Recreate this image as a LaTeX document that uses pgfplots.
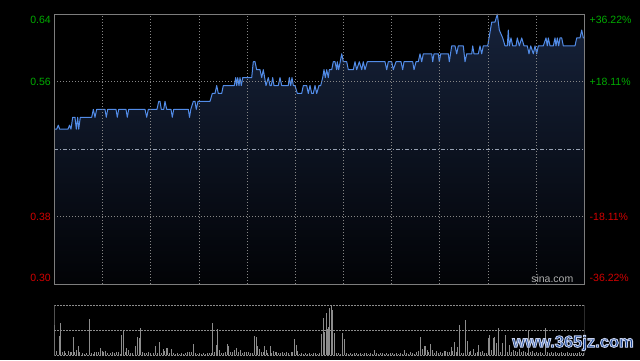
\documentclass[border=0pt]{standalone}
\usepackage{pgfplots}
\usepackage{pgfplotstable}
\pgfplotsset{compat=1.18}
\usepackage{fontspec}
\setmainfont{Liberation Sans}
\definecolor{upgreen}{RGB}{0,170,0}
\definecolor{downred}{RGB}{210,0,0}
\definecolor{pline}{RGB}{82,140,232}
\definecolor{framec}{RGB}{125,125,125}
\definecolor{gridc}{RGB}{135,135,135}
\definecolor{filltop}{RGB}{22,34,58}
\definecolor{fillbot}{RGB}{2,3,6}
\definecolor{volc}{RGB}{140,140,140}
\definecolor{wmblue}{RGB}{26,70,150}

\pgfplotstableread{
x y
54.3 0.495
56.7 0.495
58.3 0.500
59.7 0.495
68.0 0.495
69.5 0.500
71.0 0.495
72.7 0.510
75.0 0.510
76.3 0.495
77.7 0.510
78.7 0.495
80.3 0.510
91.7 0.510
93.3 0.520
95.0 0.510
96.7 0.520
105.0 0.520
106.3 0.510
107.7 0.520
116.0 0.520
117.3 0.510
118.7 0.520
126.0 0.520
127.3 0.510
128.7 0.520
145.0 0.520
146.7 0.510
148.3 0.520
157.0 0.520
158.7 0.530
160.0 0.530
161.3 0.520
163.7 0.520
165.0 0.530
166.7 0.520
171.0 0.520
172.3 0.510
173.7 0.520
188.3 0.520
189.5 0.510
190.8 0.520
193.3 0.530
195.0 0.530
196.3 0.520
198.0 0.530
210.0 0.530
212.3 0.540
215.0 0.540
216.7 0.550
218.3 0.540
221.7 0.540
223.3 0.550
234.3 0.550
235.7 0.560
236.7 0.550
237.7 0.560
239.0 0.550
240.0 0.560
241.3 0.550
242.7 0.560
251.7 0.560
253.3 0.580
255.0 0.580
256.7 0.570
260.0 0.570
261.7 0.560
263.3 0.570
266.0 0.550
268.3 0.560
270.0 0.550
271.3 0.550
272.7 0.560
274.0 0.550
278.3 0.550
280.0 0.560
281.7 0.550
288.3 0.550
289.3 0.560
290.7 0.550
292.0 0.560
293.3 0.550
295.0 0.550
297.3 0.540
301.7 0.540
303.3 0.550
306.7 0.550
308.3 0.540
310.0 0.550
311.7 0.540
313.3 0.540
315.0 0.550
316.7 0.540
319.0 0.550
320.7 0.550
322.7 0.560
324.0 0.570
325.3 0.560
326.7 0.570
328.3 0.560
329.3 0.570
331.7 0.570
333.3 0.580
335.0 0.580
336.7 0.570
337.3 0.580
338.7 0.570
341.7 0.590
343.3 0.580
346.7 0.580
348.3 0.570
353.3 0.570
355.0 0.580
356.7 0.570
359.3 0.580
361.7 0.570
363.3 0.580
365.0 0.570
367.3 0.580
385.0 0.580
386.7 0.570
388.3 0.580
391.7 0.580
393.3 0.570
396.0 0.580
401.0 0.580
402.7 0.570
404.0 0.580
412.7 0.580
414.0 0.570
416.0 0.580
418.3 0.580
420.0 0.590
421.7 0.580
423.3 0.590
431.7 0.590
432.7 0.580
434.0 0.590
438.3 0.590
439.3 0.580
440.7 0.590
448.3 0.590
449.3 0.580
451.7 0.600
455.0 0.600
456.7 0.590
458.3 0.600
463.3 0.600
465.0 0.580
466.7 0.590
471.7 0.590
472.7 0.600
474.0 0.590
478.3 0.590
480.0 0.600
481.7 0.590
483.3 0.600
487.7 0.600
491.7 0.630
495.0 0.630
497.3 0.640
499.3 0.620
502.7 0.610
505.0 0.600
507.3 0.600
508.3 0.620
509.3 0.600
511.0 0.610
512.7 0.600
516.0 0.600
517.3 0.610
519.3 0.600
521.7 0.610
524.0 0.600
527.3 0.600
529.0 0.590
530.7 0.600
533.3 0.590
535.0 0.600
536.7 0.590
538.3 0.600
543.3 0.600
546.0 0.610
547.3 0.600
548.3 0.610
550.0 0.600
553.3 0.600
555.0 0.610
556.0 0.600
557.3 0.610
558.7 0.600
560.0 0.610
561.7 0.610
563.3 0.600
575.0 0.600
576.7 0.610
580.0 0.610
581.7 0.620
583.3 0.610
584.3 0.610
}\price

\pgfplotstableread{
x h
54.7 30
56.7 4
59.3 19
60.3 32
62 3
64 4
65.7 2
68 4
70 3
71.3 3
73 18
74.7 3
76.3 5
78.3 9
79.7 3
82 2
84 1
86 2
89.3 36
91.3 2
93 1
94.7 3
96.7 3
98.7 3
100.3 7
102 4
103.3 3
105.3 4
107.3 2
110 2
112 3
114 2
116 3
118 3
120 1
121.3 20
123.3 25
125.3 3
126.7 7
128.7 5
130.7 2
132.7 2
135.3 9
137.3 18
139.3 17
140.7 27
142.7 3
144.7 2
146.7 2
148.7 3
150.7 2
153.3 2
155.3 9
157.3 2
159.3 13
161.3 2
163.3 6
164.7 4
166.3 7
167.7 7
169.3 2
171.3 6
173 2
175 1
177 2
179 1
181 2
183 1
185 2
187.3 3
189.3 3
191.3 3
193.3 11
195.3 2
197 1
199 2
201 1
203 2
205 1
207 2
209 2
211 2
212.7 32
214 3
216 10
217.3 26
219.3 5
221.3 2
223.3 2
225.3 3
227.3 11
228.7 9
230.7 3
232.7 3
234.7 5
236.7 7
238.7 3
240.7 5
242.7 2
244.7 3
246.7 3
248.7 3
250.7 2
252.7 2
254.3 19
256.3 18
257.7 9
259.7 6
261.7 3
263 3
264.7 9
266 5
267.7 2
270 9
271.7 2
273.3 4
275.3 3
276.7 3
278.7 2
280.7 2
282.7 3
284.7 2
286.7 3
288.7 2
291.3 3
292.7 3
294.3 16
296.3 10
297.7 4
299.7 1
301.7 2
303.7 1
305.7 2
307.7 1
309.7 2
311.7 1
313.7 2
315.7 2
317.7 1
319.7 2
321.3 21
323.3 37
324.3 23
326 42
327.3 26
328.7 28
329.7 47
331.3 50
332.3 45
334.3 22
336.7 2
338.7 2
340.7 1
342.7 22
344.7 16
346.7 2
348.7 1
350.7 2
352.7 1
354.7 2
356.7 2
358.7 1
360.7 2
362.7 1
364.7 2
366.7 2
368.7 1
370.7 2
372.7 1
374.7 5
376.7 2
378.7 1
380.7 2
382.7 2
384.7 1
386.7 2
388.7 1
390.7 2
392.7 2
394.7 1
396.7 2
398.7 1
400.7 2
402.7 1
404 5
406 2
408 1
410 3
412 2
414 1
416.7 3
418.7 4
420.7 18
422.3 6
424 9
425.3 9
427.3 5
428.7 3
430.3 11
432.3 5
434 2
436 4
438 2
440 3
442 2
444 4
445.7 4
447.7 3
449.3 3
451.3 8
452.7 4
454.3 13
456.3 3
457.3 8
459.3 30
461.3 2
463.3 2
465.3 35
467.3 14
469.3 3
470.7 4
473.3 6
475.3 2
477.3 3
478.7 10
480.7 3
482.7 4
484.7 2
486.7 2
488 17
489.3 20
491.3 5
493.3 17
494.3 18
496.7 12
498.7 27
500.7 3
502.7 12
505 20
507 3
509.3 10
511.3 3
513.3 5
515.3 4
517.3 3
519.3 6
521.3 3
523.3 4
525.3 3
527 2
528.7 24
530.7 3
532.7 4
534.7 2
536.7 3
538.7 2
540.7 3
542.7 2
545.3 27
547.3 3
549.3 2
551.3 3
553.3 2
555.3 3
557.3 2
559.3 2
561.3 3
563.3 2
565.3 2
567.3 3
569.3 2
571.3 2
573.3 2
575.3 2
577.3 2
579.3 3
581.3 2
583.3 2
}\vol

\begin{document}
\begin{tikzpicture}[x=1bp,y=1bp,font=\fontsize{10.5bp}{12bp}\selectfont]
\fill[black] (0,0) rectangle (640,360);

% ---------- price panel ----------
\begin{axis}[
  at={(54.3bp,76bp)}, anchor=south west, scale only axis,
  width=530bp, height=270bp,
  xmin=54.3, xmax=584.3, ymin=0.2998, ymax=0.6402,
  axis on top,
  axis line style={framec, line width=0.8bp},
  xtick={102.5,150.7,198.8,247.0,295.2,343.4,391.6,439.7,487.9,536.1},
  ytick={0.38485,0.55515},
  xticklabels={}, yticklabels={},
  tick style={draw=none}, major tick length=0pt,
  grid=major,
  major grid style={gridc, line width=0.6bp, dash pattern=on 1bp off 2bp},
]
\addplot[draw=none, top color=filltop, bottom color=fillbot]
  table[x=x,y=y] {\price} -- (axis cs:584.3,0.2998) -- (axis cs:54.3,0.2998) -- cycle;
\addplot[color={rgb,255:red,150;green,160;blue,178}, line width=0.8bp,
  dash pattern=on 4bp off 2bp on 1bp off 2bp] coordinates {(54.3,0.47) (584.3,0.47)};
\addplot[pline, line width=1bp, line join=round] table[x=x,y=y] {\price};
\end{axis}

% left labels
\node[anchor=east, text=upgreen, inner sep=0pt] at (51,340) {0.64};
\node[anchor=east, text=upgreen, inner sep=0pt] at (51,278.3) {0.56};
\node[anchor=east, text=downred, inner sep=0pt] at (51,143.5) {0.38};
\node[anchor=east, text=downred, inner sep=0pt] at (51,82) {0.30};
% right labels
\node[anchor=west, text=upgreen, inner sep=0pt] at (589.5,340) {+36.22\%};
\node[anchor=west, text=upgreen, inner sep=0pt] at (589.5,278.3) {+18.11\%};
\node[anchor=west, text=downred, inner sep=0pt] at (589.5,143.5) {-18.11\%};
\node[anchor=west, text=downred, inner sep=0pt] at (589.5,82) {-36.22\%};
% sina.com
\node[anchor=east, text={rgb,255:red,175;green,175;blue,175}, inner sep=0pt] at (573.5,81) {sina.com};

% ---------- volume panel ----------
\begin{axis}[
  at={(54.3bp,5bp)}, anchor=south west, scale only axis,
  width=530bp, height=50bp,
  xmin=54.3, xmax=584.3, ymin=0, ymax=50,
  axis line style={draw=none},
  xtick=\empty, ytick={25}, yticklabels={},
  tick style={draw=none}, major tick length=0pt,
  ymajorgrids,
  major grid style={volc, line width=0.8bp, dash pattern=on 2bp off 1bp},
]
\addplot[ycomb, volc, line width=1bp] table[x=x,y=h] {\vol};
\draw[volc, line width=0.8bp, dash pattern=on 2bp off 1bp] (rel axis cs:0,1) -- (rel axis cs:1,1);
\draw[volc, line width=0.6bp, dash pattern=on 2bp off 1bp] (rel axis cs:0,0) -- (rel axis cs:1,0);
\draw[framec, line width=0.8bp] (rel axis cs:0,0) -- (rel axis cs:0,1);
\draw[framec, line width=0.8bp] (rel axis cs:1,0) -- (rel axis cs:1,1);
\end{axis}

% watermark: blue letters with a thin light outline (fill + stroke text rendering)
\node[inner sep=0pt, font=\fontsize{16.5bp}{19bp}\selectfont\bfseries] at (573,17)
  {\color{wmblue}\special{pdf:literal 2 Tr 0.9 w 0.78 0.82 0.92 RG}www.365jz.com\special{pdf:literal 0 Tr}};
\end{tikzpicture}
\end{document}
